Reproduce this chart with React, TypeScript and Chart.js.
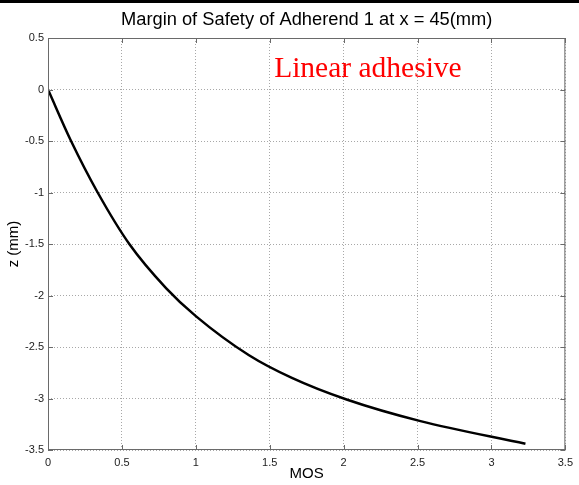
import React, { useEffect, useRef } from "react";
import { Chart, registerables } from "chart.js";

Chart.register(...registerables);

const titleText = "Margin of Safety of Adherend 1 at x = 45(mm)";
const xLabel = "MOS";
const yLabel = "z (mm)";
const annotationText = "Linear adhesive";

const mosValues = [0, 0.156, 0.336, 0.55, 0.8, 1.0, 1.36, 1.65, 2.02, 2.52, 3.23];
const zValues = [0, -0.5, -1.0, -1.5, -1.93, -2.2, -2.58, -2.8, -3.01, -3.22, -3.44];

const xMin = 0, xMax = 3.5, yMin = -3.5, yMax = 0.5, step = 0.5;
const annotationX = 1.53;
const annotationY = 0.2;

const W = 579, H = 485;
const LEFT = 48, RIGHT = 570, TOP = 38, BOTTOM = 450;
const SANS = "'Liberation Sans', Arial, sans-serif";

export default function App() {
  const ref = useRef<HTMLCanvasElement | null>(null);
  useEffect(() => {
    const canvas = ref.current!;
    const decor = {
      id: "decor",
      beforeDraw(chart: any) {
        const ctx = chart.ctx;
        ctx.save();
        ctx.fillStyle = "#ffffff";
        ctx.fillRect(0, 0, W, H);
        ctx.restore();
      },
      afterDraw(chart: any) {
        const ctx = chart.ctx;
        const a = chart.chartArea;
        const xs = chart.scales.x;
        const ys = chart.scales.y;
        ctx.save();
        ctx.fillStyle = "#000";
        ctx.fillRect(0, 0, W, 3);
        ctx.strokeStyle = "#6a6a6a";
        ctx.lineWidth = 1;
        ctx.setLineDash([]);
        ctx.strokeRect(a.left + 0.5, a.top + 0.5, a.right - a.left - 1, a.bottom - a.top - 1);
        ctx.beginPath();
        for (let v = xMin; v <= xMax + 1e-9; v += step) {
          const px = Math.round(xs.getPixelForValue(v)) + 0.5;
          ctx.moveTo(px, a.bottom); ctx.lineTo(px, a.bottom - 5);
          ctx.moveTo(px, a.top); ctx.lineTo(px, a.top + 5);
        }
        for (let v = yMin; v <= yMax + 1e-9; v += step) {
          const py = Math.round(ys.getPixelForValue(v)) + 0.5;
          ctx.moveTo(a.left, py); ctx.lineTo(a.left + 5, py);
          ctx.moveTo(a.right, py); ctx.lineTo(a.right - 5, py);
        }
        ctx.stroke();
        ctx.fillStyle = "#000";
        ctx.font = `18.3px ${SANS}`;
        ctx.textAlign = "center";
        ctx.textBaseline = "middle";
        ctx.fillText(titleText, (a.left + a.right) / 2, 20);
        ctx.fillStyle = "#ff0000";
        ctx.font = "29.5px 'Liberation Serif', 'Times New Roman', serif";
        ctx.textAlign = "left";
        ctx.textBaseline = "middle";
        ctx.fillText(annotationText, xs.getPixelForValue(annotationX), ys.getPixelForValue(annotationY));
        ctx.restore();
      },
    };
    const buildTicks = (lo: number, hi: number) => (s: any) => {
      const t = [];
      for (let v = lo; v <= hi + 1e-9; v += step) t.push({ value: +v.toFixed(2) });
      s.ticks = t;
    };
    const fmt = (v: any) => `${+(+v).toFixed(2)}`;
    const chart = new Chart(canvas, {
      type: "line",
      data: {
        datasets: [
          {
            data: mosValues.map((m, i) => ({ x: m, y: zValues[i] })),
            borderColor: "#000",
            borderWidth: 2.5,
            pointRadius: 0,
            cubicInterpolationMode: "monotone",
            fill: false,
          },
        ],
      },
      options: {
        animation: false,
        responsive: false,
        maintainAspectRatio: false,
        layout: { padding: { left: 0, top: TOP, right: W - RIGHT, bottom: 0 } },
        plugins: { legend: { display: false }, title: { display: false }, tooltip: { enabled: false } },
        scales: {
          x: {
            type: "linear",
            min: xMin,
            max: xMax,
            afterFit: (s: any) => { s.height = H - BOTTOM; },
            afterBuildTicks: buildTicks(xMin, xMax),
            ticks: {
              color: "#222",
              font: { family: SANS, size: 11 },
              padding: 6,
              maxRotation: 0,
              autoSkip: false,
              callback: fmt,
            },
            grid: { color: "#a8a8a8", drawTicks: false, tickLength: 0 },
            border: { display: false, dash: [1, 2] },
            title: {
              display: true,
              text: xLabel,
              color: "#000",
              font: { family: SANS, size: 15 },
              padding: { top: 0, bottom: 2 },
            },
          },
          y: {
            type: "linear",
            min: yMin,
            max: yMax,
            afterFit: (s: any) => { s.width = LEFT; },
            afterBuildTicks: buildTicks(yMin, yMax),
            ticks: {
              color: "#222",
              font: { family: SANS, size: 11 },
              padding: 4,
              autoSkip: false,
              callback: fmt,
            },
            grid: { color: "#a8a8a8", drawTicks: false, tickLength: 0 },
            border: { display: false, dash: [1, 2] },
            title: {
              display: true,
              text: yLabel,
              color: "#000",
              font: { family: SANS, size: 15 },
              padding: { top: 5, bottom: 0 },
            },
          },
        },
      } as any,
      plugins: [decor],
    });
    return () => chart.destroy();
  }, []);
  return (
    <div style={{ position: "fixed", left: 0, top: 0, width: W, height: H }}>
      <canvas ref={ref} width={W} height={H} style={{ width: W, height: H, display: "block" }} />
    </div>
  );
}
